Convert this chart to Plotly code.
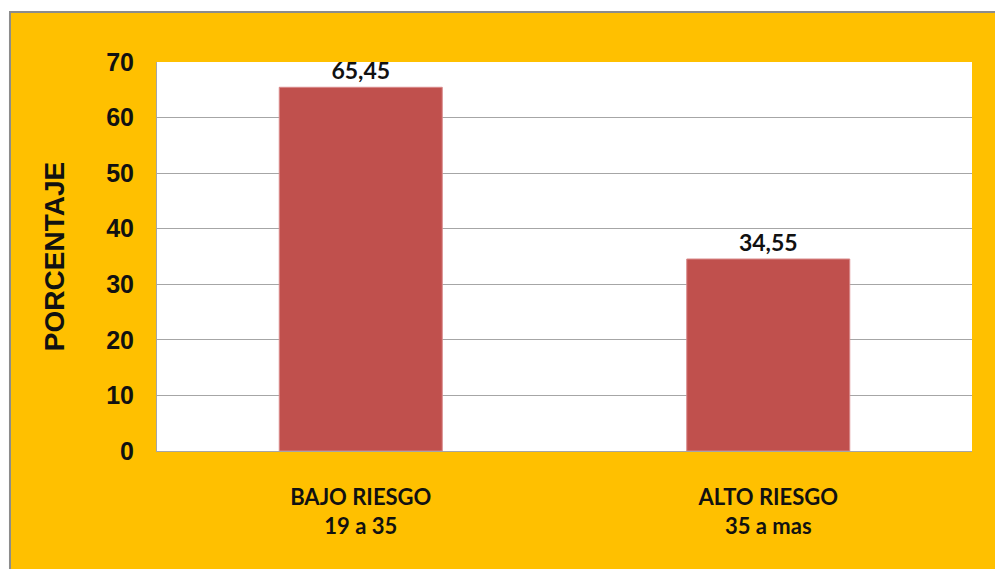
import plotly.graph_objects as go

categories = ["BAJO RIESGO<br>19 a 35", "ALTO RIESGO<br>35 a mas"]
porcentaje = [65.45, 34.55]
y_ticks = [0, 10, 20, 30, 40, 50, 60, 70]

fig = go.Figure()

fig.add_trace(
    go.Bar(
        x=categories,
        y=porcentaje,
        marker=dict(color="#C0504D", line=dict(color="#D9898A", width=1)),
        texttemplate="%{y:.2f}",
        textposition="outside",
        textfont=dict(family="Lato", size=23, color="#111111", weight="bold"),
        cliponaxis=False,
        hoverinfo="skip",
    )
)

# orange chart area with grey border, then white plot area on top of it
fig.add_shape(
    type="rect", xref="paper", yref="paper",
    x0=-0.1804, x1=1.06, y0=-0.33, y1=1.1285,
    fillcolor="#FFC000", line=dict(color="#8C8C8C", width=2), layer="below",
)
fig.add_shape(
    type="rect", xref="paper", yref="paper",
    x0=0, x1=1, y0=0, y1=1,
    fillcolor="white", line=dict(width=0), layer="below",
)

fig.update_layout(
    width=995,
    height=561,
    margin=dict(l=149, r=31, t=54, b=118),
    paper_bgcolor="white",
    plot_bgcolor="rgba(0,0,0,0)",
    bargap=0.6,
    separators=",.",
    showlegend=False,
)

fig.update_yaxes(
    range=[0, 70],
    tickvals=y_ticks,
    tickfont=dict(family="Liberation Sans, Arial", size=25, color="#111111", weight="bold"),
    ticklabelstandoff=17,
    showgrid=True,
    gridcolor="#A6A6A6",
    gridwidth=1,
    zeroline=False,
    showline=True,
    linecolor="#A6A6A6",
    linewidth=1,
    title=dict(
        text="PORCENTAJE",
        font=dict(family="Liberation Sans, Arial", size=28, color="#111111", weight="bold"),
        standoff=33,
    ),
)

fig.update_xaxes(
    tickfont=dict(family="Lato", size=22, color="#111111", weight="bold"),
    ticklabelstandoff=27,
    showline=True,
    linecolor="#A6A6A6",
    linewidth=1,
    showgrid=False,
)

fig.write_html("out.html")
